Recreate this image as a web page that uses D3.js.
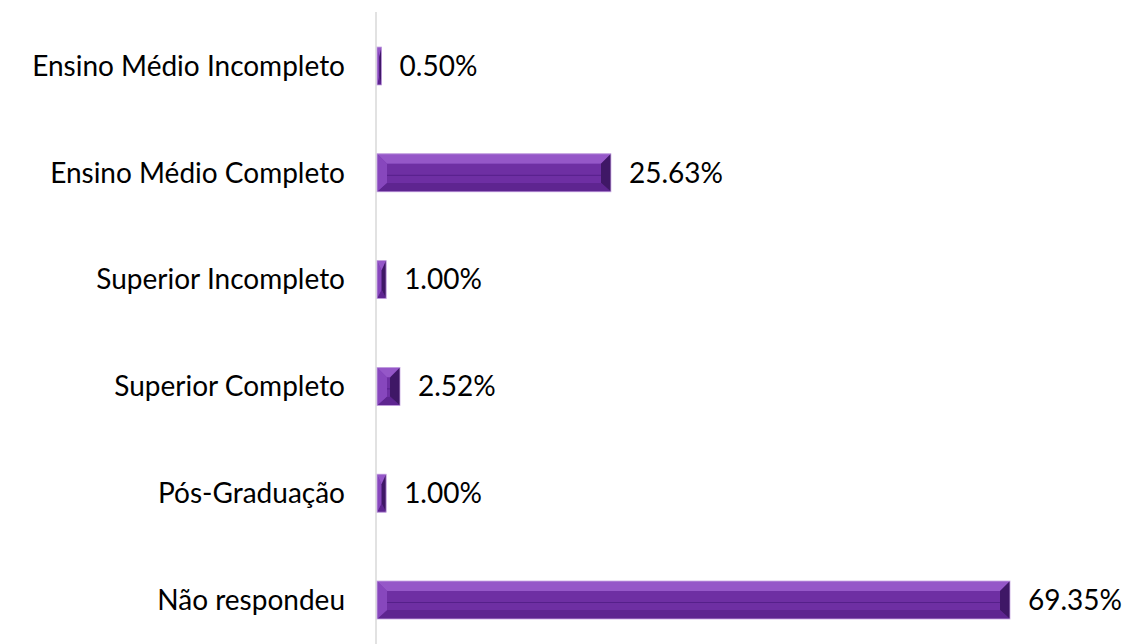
<!DOCTYPE html>
<html><head><meta charset="utf-8">
<script src="https://cdn.jsdelivr.net/npm/d3@7"></script>
<style>body{margin:0;background:#fff}svg{display:block}</style>
</head><body>
<svg id="c" width="1128" height="644"></svg>
<script>
const categories = ["Ensino Médio Incompleto","Ensino Médio Completo","Superior Incompleto","Superior Completo","Pós-Graduação","Não respondeu"];
const values = [0.50, 25.63, 1.00, 2.52, 1.00, 69.35];
const valueLabels = ["0.50%","25.63%","1.00%","2.52%","1.00%","69.35%"];

const svg = d3.select("#c");
const W = 1128, H = 644;
const x0 = 377;
const x = d3.scaleLinear().domain([0, 69.35]).range([x0, 1010]);
const y = d3.scalePoint().domain(categories).range([66, 600]);
const bh = 38;

svg.append("line").attr("x1", x0-1).attr("x2", x0-1).attr("y1", 12).attr("y2", H)
  .attr("stroke", "#d9d9d9").attr("stroke-width", 1.5);

const font = "Lato, 'Open Sans', sans-serif";

const g = svg.append("g");
categories.forEach((c, i) => {
  const v = values[i];
  const xa = x(0), xb = x(v);
  const ya = y(c) - bh/2, yb = ya + bh;
  const w = xb - xa, h = yb - ya;
  const bx = Math.min(10, w/2), by = Math.min(10, h/2), byb = Math.min(9, h/2);
  const ix1 = xa + bx, ix2 = xb - bx, iy1 = ya + by, iy2 = yb - byb;
  const pts = a => a.map(p => p.join(",")).join(" ");
  const bar = g.append("g");
  bar.append("rect").attr("x", xa).attr("y", ya).attr("width", w).attr("height", h).attr("fill", "#7a3ab0");
  bar.append("polygon").attr("points", pts([[xa,ya],[xb,ya],[ix2,iy1],[ix1,iy1]])).attr("fill", "#9557c8");
  bar.append("polygon").attr("points", pts([[xa,yb],[xb,yb],[ix2,iy2],[ix1,iy2]])).attr("fill", "#5e2590");
  bar.append("polygon").attr("points", pts([[xa,ya],[ix1,iy1],[ix1,iy2],[xa,yb]])).attr("fill", "#8747bd");
  bar.append("polygon").attr("points", pts([[xb,ya],[ix2,iy1],[ix2,iy2],[xb,yb]])).attr("fill", "#3f1766");
  if (ix2 > ix1) {
    bar.append("rect").attr("x", ix1).attr("y", iy1).attr("width", ix2-ix1).attr("height", Math.max(0, iy2-iy1)).attr("fill", "#6e2fa3");
    bar.append("line").attr("x1", ix1).attr("x2", ix2).attr("y1", (iy1+iy2)/2 + 2).attr("y2", (iy1+iy2)/2 + 2)
      .attr("stroke", "#55208a").attr("stroke-width", 1);
  }
  bar.append("rect").attr("x", xa).attr("y", ya).attr("width", w).attr("height", h)
    .attr("fill", "none").attr("stroke", "#c9a8e3").attr("stroke-width", 0.8);

  const cy = y(c);
  svg.append("text").attr("x", 345).attr("y", cy).attr("dy", "0.35em").attr("text-anchor", "end")
    .attr("font-family", font).attr("font-size", 28).attr("fill", "#000").text(c);
  svg.append("text").attr("x", xb + 18).attr("y", cy).attr("dy", "0.35em")
    .attr("font-family", font).attr("font-size", 28).attr("fill", "#000").text(valueLabels[i]);
});
</script>
</body></html>
